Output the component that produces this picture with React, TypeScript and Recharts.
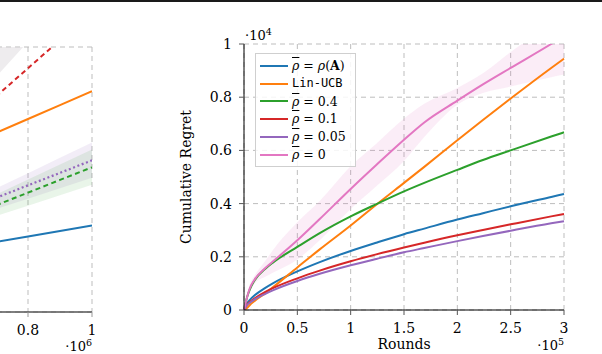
import React from 'react';
import { ComposedChart, Line, Area, XAxis, YAxis, CartesianGrid, Legend } from 'recharts';

const FONT = '"DejaVu Serif", serif';

// ---------- right panel data (x in 1e5 rounds, y in 1e4 regret) ----------
const rounds = [0, 0.03, 0.053, 0.1, 0.2, 0.27, 0.5, 0.71, 1.0, 1.24, 1.5, 1.69, 2.0, 2.24, 2.5, 2.88, 3.0];
const regretRhoA = [0, 0.026, 0.037, 0.055, 0.083, 0.1, 0.145, 0.18, 0.222, 0.253, 0.285, 0.306, 0.34, 0.364, 0.39, 0.425, 0.436];
const regretLinUCB = [0, 0.008, 0.018, 0.034, 0.063, 0.085, 0.16, 0.228, 0.318, 0.396, 0.478, 0.538, 0.638, 0.714, 0.795, 0.91, 0.945];
const regretRho04 = [0, 0.05, 0.076, 0.112, 0.155, 0.178, 0.237, 0.289, 0.352, 0.398, 0.446, 0.478, 0.527, 0.564, 0.6, 0.652, 0.668];
const regretRho01 = [0, 0.021, 0.03, 0.044, 0.068, 0.082, 0.119, 0.148, 0.183, 0.209, 0.235, 0.253, 0.281, 0.301, 0.322, 0.352, 0.361];
const regretRho005 = [0, 0.019, 0.027, 0.04, 0.061, 0.074, 0.109, 0.136, 0.168, 0.192, 0.217, 0.233, 0.259, 0.278, 0.298, 0.326, 0.334];
const regretRho0 = [0, 0.05, 0.08, 0.115, 0.158, 0.182, 0.262, 0.342, 0.455, 0.545, 0.64, 0.705, 0.787, 0.848, 0.91, 1.0, 1.03];
const rho0Low = [0, 0.04, 0.065, 0.1, 0.125, 0.14, 0.19, 0.262, 0.38, 0.465, 0.56, 0.65, 0.772, 0.816, 0.84, 0.875, 0.885];
const rho0High = [0, 0.06, 0.095, 0.13, 0.185, 0.225, 0.33, 0.41, 0.54, 0.625, 0.72, 0.775, 0.835, 0.89, 0.97, 1.08, 1.12];
const xTicks = [0, 0.5, 1, 1.5, 2, 2.5, 3];
const yTicks = [0, 0.2, 0.4, 0.6, 0.8, 1];

// ---------- left (cut-off) panel data (x in 1e6 rounds) ----------
const leftRounds = [0.7, 0.8, 0.9, 1.0];
const leftRhoA = [0.792, 0.855, 0.917, 0.98];
const leftLinUCB = [2.027, 2.185, 2.342, 2.5];
const leftRho04 = [1.208, 1.351, 1.495, 1.638];
const leftRho01 = [2.44, 2.76, 3.08, 3.4];
const leftRho005 = [1.292, 1.434, 1.575, 1.717];
const leftRho04Low = [1.085, 1.203, 1.322, 1.44];
const leftRho04High = [1.329, 1.499, 1.67, 1.84];
const leftRho005Low = [1.165, 1.283, 1.4, 1.52];
const leftRho005High = [1.398, 1.572, 1.746, 1.92];
const leftRho0Low = [2.66, 3.06, 3.47, 3.87];
const leftRho0High = [3.66, 4.06, 4.47, 4.87];
const leftXTicks = [0.8, 1];
const leftYTicks = [0, 1, 2, 3];

const C = {
  blue: '#1f77b4',
  orange: '#ff7f0e',
  green: '#2ca02c',
  red: '#d62728',
  purple: '#9467bd',
  pink: '#e377c2',
};

const data = rounds.map((r, i) => ({
  r,
  rhoA: regretRhoA[i],
  lin: regretLinUCB[i],
  rho04: regretRho04[i],
  rho01: regretRho01[i],
  rho005: regretRho005[i],
  rho0: regretRho0[i],
  band: [rho0Low[i], rho0High[i]],
}));

const leftData = leftRounds.map((r, i) => ({
  r,
  rhoA: leftRhoA[i],
  lin: leftLinUCB[i],
  rho04: leftRho04[i],
  rho01: leftRho01[i],
  rho005: leftRho005[i],
  band04: [leftRho04Low[i], leftRho04High[i]],
  band005: [leftRho005Low[i], leftRho005High[i]],
  band0: [leftRho0Low[i], leftRho0High[i]],
}));

const Rho = () => <span style={{ fontStyle: 'italic', textDecoration: 'overline' }}>ρ</span>;

const legendItems: { color: string; label: React.ReactNode }[] = [
  { color: C.blue, label: <><Rho /> = <i>ρ</i>(<b>A</b>)</> },
  { color: C.orange, label: <span style={{ fontFamily: '"DejaVu Sans Mono", monospace', fontSize: 12 }}>Lin-UCB</span> },
  { color: C.green, label: <><Rho /> = 0.4</> },
  { color: C.red, label: <><Rho /> = 0.1</> },
  { color: C.purple, label: <><Rho /> = 0.05</> },
  { color: C.pink, label: <><Rho /> = 0</> },
];

const LegendBox = () => (
  <div
    style={{
      width: 101,
      height: 114,
      boxSizing: 'border-box',
      border: '1px solid #cfcfcf',
      background: 'rgba(255,255,255,0.85)',
      padding: '3px 0 0 4px',
      fontFamily: FONT,
      fontSize: 12.5,
      color: '#000',
    }}
  >
    {legendItems.map((it, i) => (
      <div key={i} style={{ display: 'flex', alignItems: 'center', height: 17.8 }}>
        <svg width={28} height={4} style={{ flex: 'none' }}>
          <line x1={0} y1={2} x2={28} y2={2} stroke={it.color} strokeWidth={2} />
        </svg>
        <span style={{ marginLeft: 4, whiteSpace: 'nowrap', lineHeight: '17.8px' }}>{it.label}</span>
      </div>
    ))}
  </div>
);

const XLabelRight = (props: any) => {
  const vb = props.viewBox || { x: 74, y: 310, width: 320, height: 30 };
  return (
    <g fontFamily={FONT} fill="#000">
      <text x={vb.x + vb.width / 2} y={vb.y + 39} textAnchor="middle" fontSize={14}>Rounds</text>
      <text x={vb.x + vb.width} y={vb.y + 40} textAnchor="end" fontSize={13}>
        ·10<tspan fontSize={9.5} dy={-5}>5</tspan>
      </text>
    </g>
  );
};

const YLabelRight = (props: any) => {
  const vb = props.viewBox || { x: 44, y: 44, width: 30, height: 266 };
  const cx = vb.x - 28;
  const cy = vb.y + vb.height / 2;
  return (
    <g fontFamily={FONT} fill="#000">
      <text x={cx} y={cy} transform={`rotate(-90 ${cx} ${cy})`} textAnchor="middle" dominantBaseline="central" fontSize={14}>
        Cumulative Regret
      </text>
      <text x={vb.x + vb.width + 1} y={vb.y - 4} fontSize={13}>
        ·10<tspan fontSize={9.5} dy={-5}>4</tspan>
      </text>
    </g>
  );
};

const XLabelLeft = (props: any) => {
  const vb = props.viewBox || { x: 12, y: 312, width: 320, height: 30 };
  return (
    <g fontFamily={FONT} fill="#000">
      <text x={vb.x + vb.width} y={vb.y + 39} textAnchor="end" fontSize={13}>
        ·10<tspan fontSize={9.5} dy={-5}>6</tspan>
      </text>
    </g>
  );
};

const tickStyle = { fontSize: 14, fill: '#000', fontFamily: FONT };

export default function App() {
  return (
    <div style={{ position: 'absolute', left: 0, top: 0, width: 602, height: 354, overflow: 'hidden', background: '#fff' }}>
      <div style={{ position: 'absolute', left: 0, top: 0, width: 602, height: 2, background: '#1a1a1a' }} />

      {/* left, cut-off panel */}
      <div style={{ position: 'absolute', left: -240, top: 0 }}>
        <ComposedChart width={340} height={354} data={leftData} margin={{ top: 47, right: 8, bottom: 12, left: 12 }}>
          <CartesianGrid stroke="#bdbdbd" strokeDasharray="5 4" />
          <XAxis
            dataKey="r"
            type="number"
            domain={[0, 1]}
            ticks={leftXTicks}
            height={30}
            allowDataOverflow
            tick={tickStyle}
            tickSize={5}
            tickMargin={8}
            tickLine={{ stroke: '#999' }}
            axisLine={{ stroke: '#555', strokeWidth: 1.3 }}
            label={XLabelLeft}
          />
          <YAxis
            type="number"
            domain={[0, 3]}
            ticks={leftYTicks}
            width={0}
            allowDataOverflow
            tick={false}
            tickLine={false}
            axisLine={{ stroke: '#555', strokeWidth: 1.3 }}
          />
          <XAxis xAxisId="top" orientation="top" dataKey="r" type="number" domain={[0, 1]} height={0} tick={false} tickLine={false} axisLine={{ stroke: '#555', strokeWidth: 1.3 }} />
          <YAxis yAxisId="right" orientation="right" type="number" domain={[0, 3]} width={0} tick={false} tickLine={false} axisLine={{ stroke: '#555', strokeWidth: 1.6 }} />
          <Area dataKey="band0" type="linear" stroke="none" fill="#d9d4d9" fillOpacity={0.45} isAnimationActive={false} />
          <Area dataKey="band005" type="linear" stroke="none" fill={C.purple} fillOpacity={0.12} isAnimationActive={false} />
          <Area dataKey="band04" type="linear" stroke="none" fill={C.green} fillOpacity={0.1} isAnimationActive={false} />
          <Line dataKey="rhoA" type="linear" stroke={C.blue} strokeWidth={2} dot={false} isAnimationActive={false} />
          <Line dataKey="lin" type="linear" stroke={C.orange} strokeWidth={2} dot={false} isAnimationActive={false} />
          <Line dataKey="rho04" type="linear" stroke={C.green} strokeWidth={2} strokeDasharray="5 3.5" dot={false} isAnimationActive={false} />
          <Line dataKey="rho01" type="linear" stroke={C.red} strokeWidth={2} strokeDasharray="5 3.5" dot={false} isAnimationActive={false} />
          <Line dataKey="rho005" type="linear" stroke={C.purple} strokeWidth={2.2} strokeDasharray="2 2.6" dot={false} isAnimationActive={false} />
        </ComposedChart>
      </div>

      {/* right panel */}
      <div style={{ position: 'absolute', left: 170, top: 0 }}>
        <ComposedChart width={432} height={354} data={data} margin={{ top: 44, right: 38, bottom: 14, left: 44 }}>
          <CartesianGrid stroke="#bdbdbd" strokeDasharray="5 4" />
          <XAxis
            dataKey="r"
            type="number"
            domain={[0, 3]}
            ticks={xTicks}
            height={30}
            tick={tickStyle}
            tickSize={5}
            tickMargin={8}
            tickLine={{ stroke: '#555' }}
            axisLine={{ stroke: '#000' }}
            label={XLabelRight}
          />
          <YAxis
            type="number"
            domain={[0, 1]}
            ticks={yTicks}
            width={30}
            allowDataOverflow
            tick={tickStyle}
            tickSize={5}
            tickMargin={7}
            tickLine={{ stroke: '#555' }}
            axisLine={{ stroke: '#000' }}
            label={YLabelRight}
          />
          <XAxis xAxisId="top" orientation="top" dataKey="r" type="number" domain={[0, 3]} height={0} tick={false} tickLine={false} axisLine={{ stroke: '#333' }} />
          <YAxis yAxisId="right" orientation="right" type="number" domain={[0, 1]} width={0} tick={false} tickLine={false} axisLine={{ stroke: '#000' }} />
          <Area dataKey="band" type="monotone" stroke="none" fill={C.pink} fillOpacity={0.13} isAnimationActive={false} />
          <Line dataKey="rhoA" type="monotone" stroke={C.blue} strokeWidth={2} dot={false} isAnimationActive={false} />
          <Line dataKey="lin" type="monotone" stroke={C.orange} strokeWidth={2} dot={false} isAnimationActive={false} />
          <Line dataKey="rho04" type="monotone" stroke={C.green} strokeWidth={2} dot={false} isAnimationActive={false} />
          <Line dataKey="rho01" type="monotone" stroke={C.red} strokeWidth={2} dot={false} isAnimationActive={false} />
          <Line dataKey="rho005" type="monotone" stroke={C.purple} strokeWidth={2} dot={false} isAnimationActive={false} />
          <Line dataKey="rho0" type="monotone" stroke={C.pink} strokeWidth={2} dot={false} isAnimationActive={false} />
          <Legend
            layout="vertical"
            align="center"
            verticalAlign="middle"
            content={() => <LegendBox />}
            wrapperStyle={{ left: 85, top: 53, width: 101, height: 114 }}
          />
        </ComposedChart>
      </div>
    </div>
  );
}
